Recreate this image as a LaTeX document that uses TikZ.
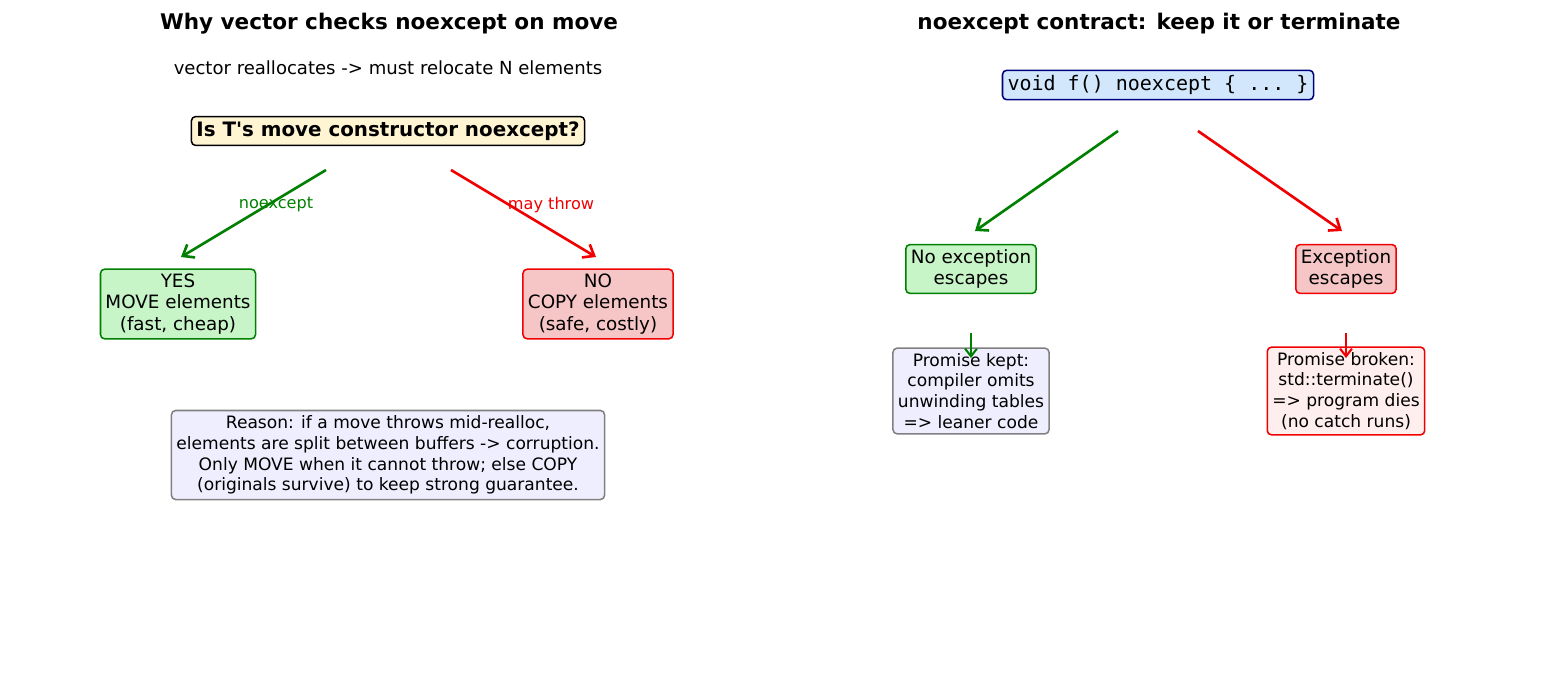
\documentclass[tikz,border=0pt]{standalone}
\usepackage{fontspec}
\setmainfont{DejaVu Sans}
\setmonofont{DejaVu Sans Mono}
\usepackage{tikz}
\usetikzlibrary{arrows.meta}

\definecolor{yesfill}{HTML}{C8F5C8}
\definecolor{nofill}{HTML}{F6C5C5}
\definecolor{askfill}{HTML}{FFF5D2}
\definecolor{notefill}{HTML}{EEEEFE}
\definecolor{codefill}{HTML}{D2E6FC}
\definecolor{brokefill}{HTML}{FFEEEE}
\definecolor{okgreen}{HTML}{008000}
\definecolor{badred}{HTML}{F00000}

\tikzset{
  box/.style={rectangle,rounded corners=3pt,draw,line width=1.1pt,align=center,inner sep=3.6pt,
    font=\fontsize{13.2}{15.2}\selectfont},
  small/.style={font=\fontsize{12.3}{15}\selectfont},
  big arrow/.style={line width=1.9pt,-{Straight Barb[length=7pt,width=11pt]}},
  tiny arrow/.style={line width=1.5pt,-{Straight Barb[length=5.5pt,width=8.5pt]}},
}

\begin{document}
\begin{tikzpicture}[x=0.72pt,y=-0.72pt]
\useasboundingbox (0,0) rectangle (1547,699);

% left titles
\node[font=\fontsize{15.5}{17}\bfseries\selectfont] (title) at (389,24) {Why vector checks noexcept on move};
\node[font=\fontsize{13}{15}\selectfont] (sub) at (388,68) {vector reallocates -> must relocate N elements};

% question node
\node[box,fill=askfill,draw=black,font=\fontsize{14.3}{16}\bfseries\selectfont] (ask) at (388,131) {Is T\textquotesingle s move constructor noexcept?};

% yes / no nodes
\node[box,fill=yesfill,draw=okgreen] (yes) at (178,304) {YES\\MOVE elements\\(fast, cheap)};
\node[box,fill=nofill,draw=badred] (no) at (598,304) {NO\\COPY elements\\(safe, costly)};

\coordinate (askl) at (326,170);
\coordinate (askr) at (451,170);
\coordinate (yestop) at (181,257);
\coordinate (notop) at (596,257);

\draw[big arrow,okgreen] (askl) -- (yestop);
\draw[big arrow,badred] (askr) -- (notop);

\node[font=\fontsize{11.6}{13}\selectfont,text=okgreen] (lnoex) at (276,205) {noexcept};
\node[font=\fontsize{11.6}{13}\selectfont,text=badred] (lthrow) at (551,205) {may throw};

% reason node
\node[box,small,fill=notefill,draw=gray] (reason) at (388,455)
  {Reason: if a move throws mid-realloc,\\elements are split between buffers -> corruption.\\Only MOVE when it cannot throw; else COPY\\(originals survive) to keep strong guarantee.};

% right title
\node[font=\fontsize{15.5}{17}\bfseries\selectfont] (title2) at (1159,24) {noexcept contract: keep it or terminate};

% code node
\node[box,fill=codefill,draw=blue!50!black,font=\fontsize{14.4}{16}\ttfamily\selectfont] (code) at (1158,85) {void f() noexcept \{ ... \}};

% escape nodes
\node[box,fill=yesfill,draw=okgreen] (noesc) at (971,269) {No exception\\escapes};
\node[box,fill=nofill,draw=badred] (esc) at (1346,269) {Exception\\escapes};

\coordinate (codel) at (1118,131);
\coordinate (coder) at (1198,131);
\coordinate (noesctop) at (975,231);
\coordinate (esctop) at (1342,231);

\draw[big arrow,okgreen] (codel) -- (noesctop);
\draw[big arrow,badred] (coder) -- (esctop);

% promise nodes
\node[box,small,fill=notefill,draw=gray] (kept) at (971,391) {Promise kept:\\compiler omits\\unwinding tables\\=> leaner code};
\node[box,small,fill=brokefill,draw=badred] (broken) at (1346,391) {Promise broken:\\std::terminate()\\=> program dies\\(no catch runs)};

\coordinate (keptin) at (971,333);
\coordinate (keptend) at (971,358);
\coordinate (brokenin) at (1346,333);
\coordinate (brokenend) at (1346,358);

\draw[tiny arrow,okgreen] (keptin) -- (keptend);
\draw[tiny arrow,badred] (brokenin) -- (brokenend);

\end{tikzpicture}
\end{document}
